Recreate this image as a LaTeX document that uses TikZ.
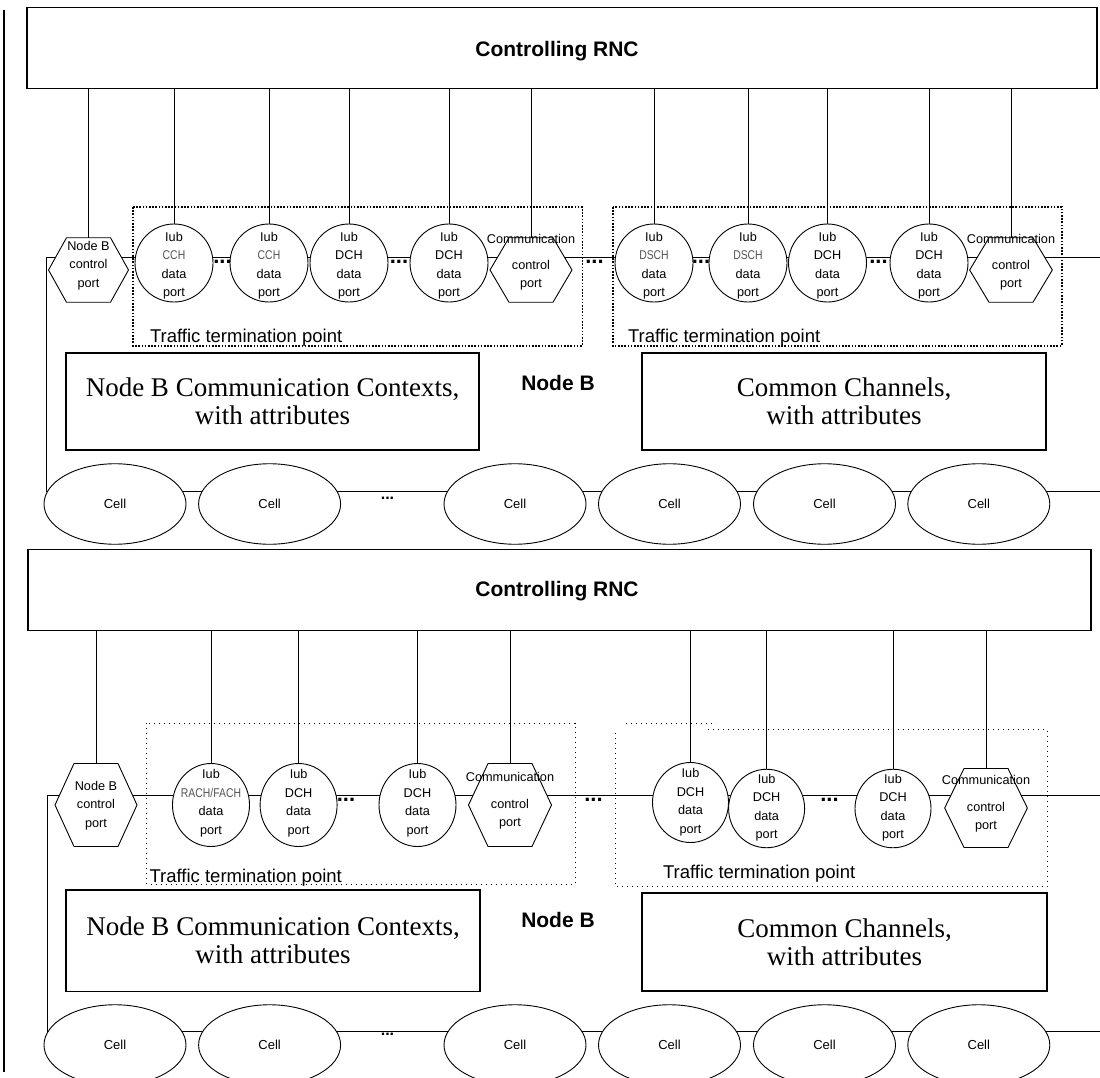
\documentclass[tikz,border=0pt]{standalone}
\usepackage{fontspec}
\setmainfont{Liberation Sans}
\newfontfamily\serif{Liberation Serif}
\newfontfamily\narrow[FakeStretch=0.82]{Liberation Sans}
\usetikzlibrary{shapes.geometric}
\definecolor{chgray}{HTML}{555555}
\pgfdeclarelayer{bg}
\pgfdeclarelayer{mid}
\pgfsetlayers{bg,mid,main}
\newcommand\ptext[2]{\makebox[0pt]{\smash{\raisebox{#1}{\begin{tabular}{@{}c@{}}#2\end{tabular}}}}}
\newcommand\gr[1]{{\narrow\color{chgray}#1}}
\newcommand\hexdraw[1]{%
  \filldraw[hexline] (#1.west) -- ([xshift=-22pt]#1.north) -- ([xshift=22pt]#1.north) -- (#1.east) -- ([xshift=22pt]#1.south) -- ([xshift=-22pt]#1.south) -- cycle;}
\tikzset{
  base/.style={inner sep=0pt, outer sep=0pt},
  ln/.style={line width=0.9pt},
  rncbox/.style={base, draw, line width=1.2pt},
  rnctext/.style={base, font=\bfseries\fontsize{21}{25}\selectfont},
  ctxbox/.style={base, draw, line width=1.6pt, align=center, font=\serif\fontsize{27}{28}\selectfont},
  port/.style={base, ellipse, draw, fill=white, line width=0.9pt, font=\fontsize{12.7}{18.5}\selectfont},
  tport/.style={port, minimum width=78pt, minimum height=78pt},
  hexnode/.style={base, rectangle, font=\fontsize{12.7}{18.5}\selectfont},
  hexline/.style={line width=0.9pt, fill=white},
  cell/.style={base, ellipse, draw, fill=white, line width=0.9pt, minimum width=142pt, minimum height=80.5pt, font=\fontsize{13}{15}\selectfont},
  ttp/.style={base, anchor=base west, font=\fontsize{18.5}{22}\selectfont},
  nodeb/.style={base, font=\bfseries\fontsize{21}{25}\selectfont},
  dots/.style={base, anchor=base, font=\bfseries\fontsize{22}{22}\selectfont},
  celldots/.style={base, anchor=base, font=\bfseries\fontsize{16}{16}\selectfont},
  tdot/.style={line width=1.6pt, dash pattern=on 1.6pt off 1.6pt},
  bdot/.style={line width=1pt, dash pattern=on 1pt off 4pt},
}
\begin{document}
\begin{tikzpicture}[x=1pt,y=-1pt]
\useasboundingbox (0,0) rectangle (1100,1078);

% ---------------- TOP HALF ----------------
\node[rncbox, minimum width=1070pt, minimum height=81pt] (rnc1) at (562,48.2) {};
\node[rnctext] (rt1) at (557,51) {Controlling RNC};

\node[hexnode, minimum width=80pt, minimum height=64.5pt] (hA) at (88.5,270) {\ptext{1.8pt}{Node B\\control\\port}};
\node[tport] (c1) at (174,263) {\ptext{-5.2pt}{Iub\\\gr{CCH}\\data\\port}};
\node[tport] (c2) at (269,263) {\ptext{-5.2pt}{Iub\\\gr{CCH}\\data\\port}};
\node[tport] (c3) at (349,263) {\ptext{-5.2pt}{Iub\\DCH\\data\\port}};
\node[tport] (c4) at (449,263) {\ptext{-5.2pt}{Iub\\DCH\\data\\port}};
\node[hexnode, minimum width=82pt, minimum height=64.5pt] (hB) at (531,270) {\ptext{4.8pt}{Communication\\[7pt]control\\port}};
\node[tport] (c5) at (654,263) {\ptext{-5.2pt}{Iub\\\gr{DSCH}\\data\\port}};
\node[tport] (c6) at (748,263) {\ptext{-5.2pt}{Iub\\\gr{DSCH}\\data\\port}};
\node[tport] (c7) at (827.5,263) {\ptext{-5.2pt}{Iub\\DCH\\data\\port}};
\node[tport] (c8) at (929,263) {\ptext{-5.2pt}{Iub\\DCH\\data\\port}};
\node[hexnode, minimum width=82.7pt, minimum height=64.5pt] (hC) at (1011,270) {\ptext{4.8pt}{Communication\\[7pt]control\\port}};

\node[ttp] (tt1) at (150,342) {Traffic termination point};
\node[ttp] (tt2) at (628,342) {Traffic termination point};

\node[ctxbox, minimum width=413pt, minimum height=97pt] (ctx1) at (272.5,401.5) {Node B Communication Contexts,\\with attributes};
\node[nodeb] (nb1) at (558,383) {Node B};
\node[ctxbox, minimum width=404pt, minimum height=97pt] (cc1) at (844,401.5) {Common Channels,\\with attributes};

\node[cell] (e1) at (115,504) {Cell};
\node[cell] (e2) at (269.6,504) {Cell};
\node[cell] (e3) at (515,504) {Cell};
\node[cell] (e4) at (669.5,504) {Cell};
\node[cell] (e5) at (824.5,504) {Cell};
\node[cell] (e6) at (978.8,504) {Cell};

\node[dots] (d1) at (222.5,263.5) {...};
\node[dots] (d2) at (399,263.5) {...};
\node[dots] (d3) at (594.5,263.5) {...};
\node[dots] (d4) at (701,263.5) {...};
\node[dots] (d5) at (878.5,263.5) {...};
\node[celldots] (d6) at (387.5,499) {...};

\coordinate (L1) at (46.6,257);
\coordinate (L1e) at (1100,257);
\coordinate (C1) at (46.6,491);
\coordinate (C1e) at (1100,491);

% ---------------- BOTTOM HALF ----------------
\node[rncbox, minimum width=1063pt, minimum height=81pt] (rnc2) at (559.5,590) {};
\node[rnctext] (rt2) at (557,591) {Controlling RNC};

\node[hexnode, minimum width=82pt, minimum height=83pt] (gA) at (96,805) {\ptext{-2.8pt}{Node B\\control\\port}};
\node[port, minimum width=77pt, minimum height=83pt] (p1) at (211,805) {\ptext{-0.7pt}{Iub\\\gr{RACH/FACH}\\data\\port}};
\node[port, minimum width=77pt, minimum height=83pt] (p2) at (298.6,805) {\ptext{-0.7pt}{Iub\\DCH\\data\\port}};
\node[port, minimum width=77pt, minimum height=83pt] (p3) at (417.5,805) {\ptext{-0.7pt}{Iub\\DCH\\data\\port}};
\node[hexnode, minimum width=83pt, minimum height=83pt] (gB) at (510,805) {\ptext{1.8pt}{Communication\\[8.5pt]control\\port}};
\node[port, minimum width=76pt, minimum height=80pt] (p4) at (690.5,802.5) {\ptext{-2.2pt}{Iub\\DCH\\data\\port}};
\node[port, minimum width=76pt, minimum height=78.5pt] (p5) at (766.6,808.5) {\ptext{-1.7pt}{Iub\\DCH\\data\\port}};
\node[port, minimum width=76pt, minimum height=78.5pt] (p6) at (893,808.5) {\ptext{-1.7pt}{Iub\\DCH\\data\\port}};
\node[hexnode, minimum width=82.7pt, minimum height=79pt] (gC) at (986,808) {\ptext{1.8pt}{Communication\\[8.5pt]control\\port}};

\node[ttp] (tt3) at (149.6,882) {Traffic termination point};
\node[ttp] (tt4) at (663,878) {Traffic termination point};

\node[ctxbox, minimum width=414pt, minimum height=101.5pt] (ctx2) at (273,940.7) {Node B Communication Contexts,\\with attributes};
\node[nodeb] (nb2) at (558,920) {Node B};
\node[ctxbox, minimum width=405pt, minimum height=98pt] (cc2) at (844.5,942) {Common Channels,\\with attributes};

\node[cell] (f1) at (115,1045) {Cell};
\node[cell] (f2) at (269.6,1045) {Cell};
\node[cell] (f3) at (515,1045) {Cell};
\node[cell] (f4) at (669.5,1045) {Cell};
\node[cell] (f5) at (824.5,1045) {Cell};
\node[cell] (f6) at (978.8,1045) {Cell};

\node[dots] (g1) at (346,801) {...};
\node[dots] (g2) at (593.5,801) {...};
\node[dots] (g3) at (829.5,801) {...};
\node[celldots] (g4) at (387.5,1035) {...};

\coordinate (L2) at (47.9,795.5);
\coordinate (L2e) at (1100,795.5);
\coordinate (C2) at (47.9,1031.5);
\coordinate (C2e) at (1100,1031.5);

% ---------------- SHAPES (hexagons) ----------------
\begin{pgfonlayer}{mid}
\hexdraw{hA}\hexdraw{hB}\hexdraw{hC}
\hexdraw{gA}\hexdraw{gB}\hexdraw{gC}
\end{pgfonlayer}

% ---------------- CONNECTORS ----------------
\begin{pgfonlayer}{bg}
\draw[line width=2pt] (4.2,10) -- (4.2,1072);
\draw[ln] (C1e) -- (C1) -- (L1) -- (L1e);
\draw[ln] (C2e) -- (C2) -- (L2) -- (L2e);
\foreach \n in {hA,c1,c2,c3,c4,hB,c5,c6,c7,c8,hC}
  \draw[ln] (\n.north) -- (\n.north |- rnc1.south);
\foreach \n in {gA,p1,p2,p3,gB,p4,p5,p6,gC}
  \draw[ln] (\n.north) -- (\n.north |- rnc2.south);
\draw[tdot] (133,207) rectangle (582.3,345.7);
\draw[tdot] (612.7,207) rectangle (1061.7,345.7);
\draw[bdot] (146.7,723) rectangle (575,884);
\draw[bdot] (626,723) -- (716,723);
\draw[bdot] (708,729.5) -- (1047,729.5) -- (1047,886) -- (615,886) -- (615,730);
\end{pgfonlayer}
\end{tikzpicture}
\end{document}
